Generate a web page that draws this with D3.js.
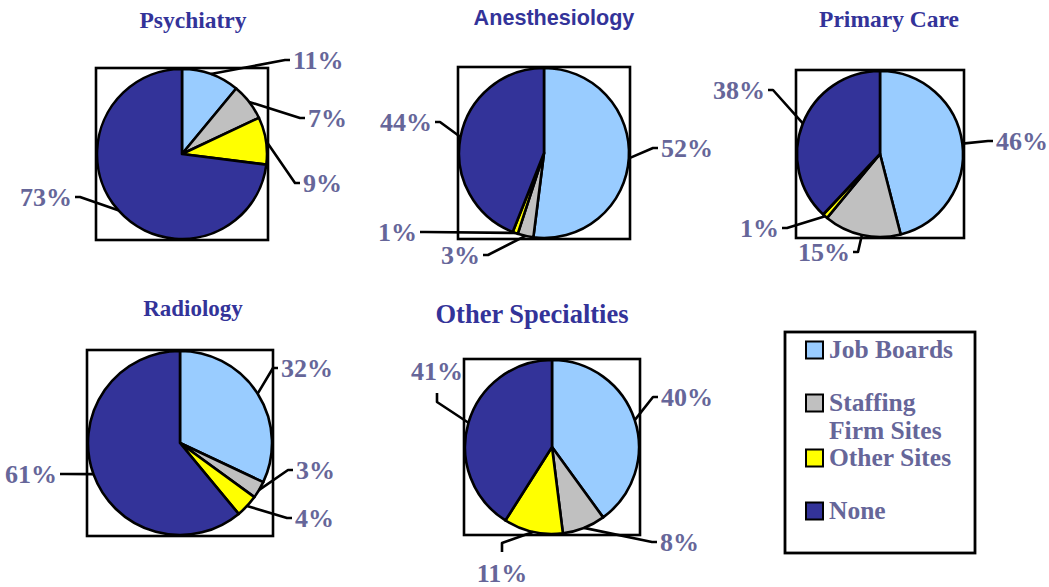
<!DOCTYPE html>
<html><head><meta charset="utf-8">
<script src="https://cdn.jsdelivr.net/npm/d3@7"></script>
<style>html,body{margin:0;padding:0;background:#fff;}</style>
</head><body><svg id="chart" width="1049" height="587"></svg>
<script>
// ---- data ----
const categories = ["Job Boards", "Staffing Firm Sites", "Other Sites", "None"];
const legendLines = [["Job Boards"], ["Staffing", "Firm Sites"], ["Other Sites"], ["None"]];
const specialties = ["Psychiatry", "Anesthesiology", "Primary Care", "Radiology", "Other Specialties"];
const psychiatry = [11, 7, 9, 73];
const anesthesiology = [52, 3, 1, 44];
const primaryCare = [46, 15, 1, 38];
const radiology = [32, 3, 4, 61];
const otherSpecialties = [40, 8, 11, 41];
const seriesValues = [psychiatry, anesthesiology, primaryCare, radiology, otherSpecialties];

// ---- styles / layout ----
const colors = ["#99CCFF", "#C0C0C0", "#FFFF00", "#333399"];
const serif = "'Liberation Serif','Times New Roman',serif";
const sans = "'Liberation Sans',Arial,sans-serif";
const labelColor = "#666699";
const titleColor = "#333399";

// label offsets (elbow point relative to pie center) and side
const layouts = [
  {cx:182, cy:154, r:85, tx:193, ty:28, tfont:serif, tsize:23.5,
   labels:[[103,-94,"r"],[118,-36,"r"],[113,29,"r"],[-102,43,"l"]]},
  {cx:544, cy:153, r:85, tx:554, ty:25, tfont:sans, tsize:21.6,
   labels:[[109,-5,"r"],[-56,102,"l"],[-119,79,"l"],[-104,-31,"l"]]},
  {cx:880, cy:154, r:83, tx:889, ty:27, tfont:serif, tsize:23.5,
   labels:[[108,-13,"r"],[-22,98,"l"],[-93,74,"l"],[-107,-64,"l"]]},
  {cx:180, cy:443, r:92, tx:193, ty:316, tfont:serif, tsize:23,
   labels:[[93,-75,"r"],[108,27,"r"],[107,75,"r"],[-115,31,"l"]]},
  {cx:552, cy:447, r:87, tx:532, ty:323, tfont:serif, tsize:26.5,
   labels:[[101,-50,"r"],[100,95,"r"],[-50,96,"b"],[-115,-45,"a"]]}
];

const svg = d3.select("#chart");
const pie = d3.pie().sort(null).value(d => d);
const sw = 2.6;

seriesValues.forEach((vals, i) => {
  const L = layouts[i];
  const g = svg.append("g").attr("transform", `translate(${L.cx},${L.cy})`);
  const box = L.r + 1;
  g.append("rect").attr("x", -box).attr("y", -box).attr("width", 2*box).attr("height", 2*box)
    .attr("fill", "#fff").attr("stroke", "#000").attr("stroke-width", sw);
  const arc = d3.arc().innerRadius(0).outerRadius(L.r);
  const arcs = pie(vals);
  g.selectAll("path.slice").data(arcs).join("path").attr("class","slice")
    .attr("d", arc).attr("fill", (d, j) => colors[j])
    .attr("stroke", "#000").attr("stroke-width", sw).attr("stroke-linejoin", "round");

  arcs.forEach((d, j) => {
    const a = (d.startAngle + d.endAngle) / 2;
    const sx = L.r * Math.sin(a), sy = -L.r * Math.cos(a);
    const [ex, ey, side] = L.labels[j];
    let pts, tx, ty, anchor;
    if (side === "r") { pts = [[sx,sy],[ex,ey],[ex+5,ey]]; tx = ex+8; ty = ey+9; anchor = "start"; }
    else if (side === "l") { pts = [[sx,sy],[ex,ey],[ex-5,ey]]; tx = ex-8; ty = ey+9; anchor = "end"; }
    else if (side === "b") { pts = [[sx,sy],[ex,ey],[ex,ey+9]]; tx = ex; ty = ey+39; anchor = "middle"; }
    else { pts = [[sx,sy],[ex,ey],[ex,ey-9]]; tx = ex; ty = ey-22; anchor = "middle"; }
    g.append("path").attr("d", d3.line()(pts)).attr("fill","none")
      .attr("stroke","#000").attr("stroke-width",sw).attr("stroke-linejoin","round");
    g.append("text").attr("x", tx).attr("y", ty).attr("text-anchor", anchor)
      .attr("font-family", serif).attr("font-weight","bold").attr("font-size", 26)
      .attr("fill", labelColor).text(d.data + "%");
  });

  svg.append("text").attr("x", L.tx).attr("y", L.ty).attr("text-anchor","middle")
    .attr("font-family", L.tfont).attr("font-weight","bold").attr("font-size", L.tsize)
    .attr("fill", titleColor).text(specialties[i]);
});

// legend
const lg = svg.append("g");
lg.append("rect").attr("x",785).attr("y",332).attr("width",190).attr("height",221)
  .attr("fill","#fff").attr("stroke","#000").attr("stroke-width",2.8);
const legendY = [350, 403, 458, 511];
const lineGap = [0, 28, 0, 0];
categories.forEach((c, i) => {
  lg.append("rect").attr("x",806).attr("y",legendY[i]-8.5).attr("width",17).attr("height",17)
    .attr("fill",colors[i]).attr("stroke","#000").attr("stroke-width",2);
  legendLines[i].forEach((line, k) => {
    lg.append("text").attr("x",829).attr("y",legendY[i]+8+k*lineGap[i])
      .attr("font-family",serif).attr("font-weight","bold").attr("font-size",25.5)
      .attr("fill",labelColor).text(line);
  });
});
</script></body></html>
